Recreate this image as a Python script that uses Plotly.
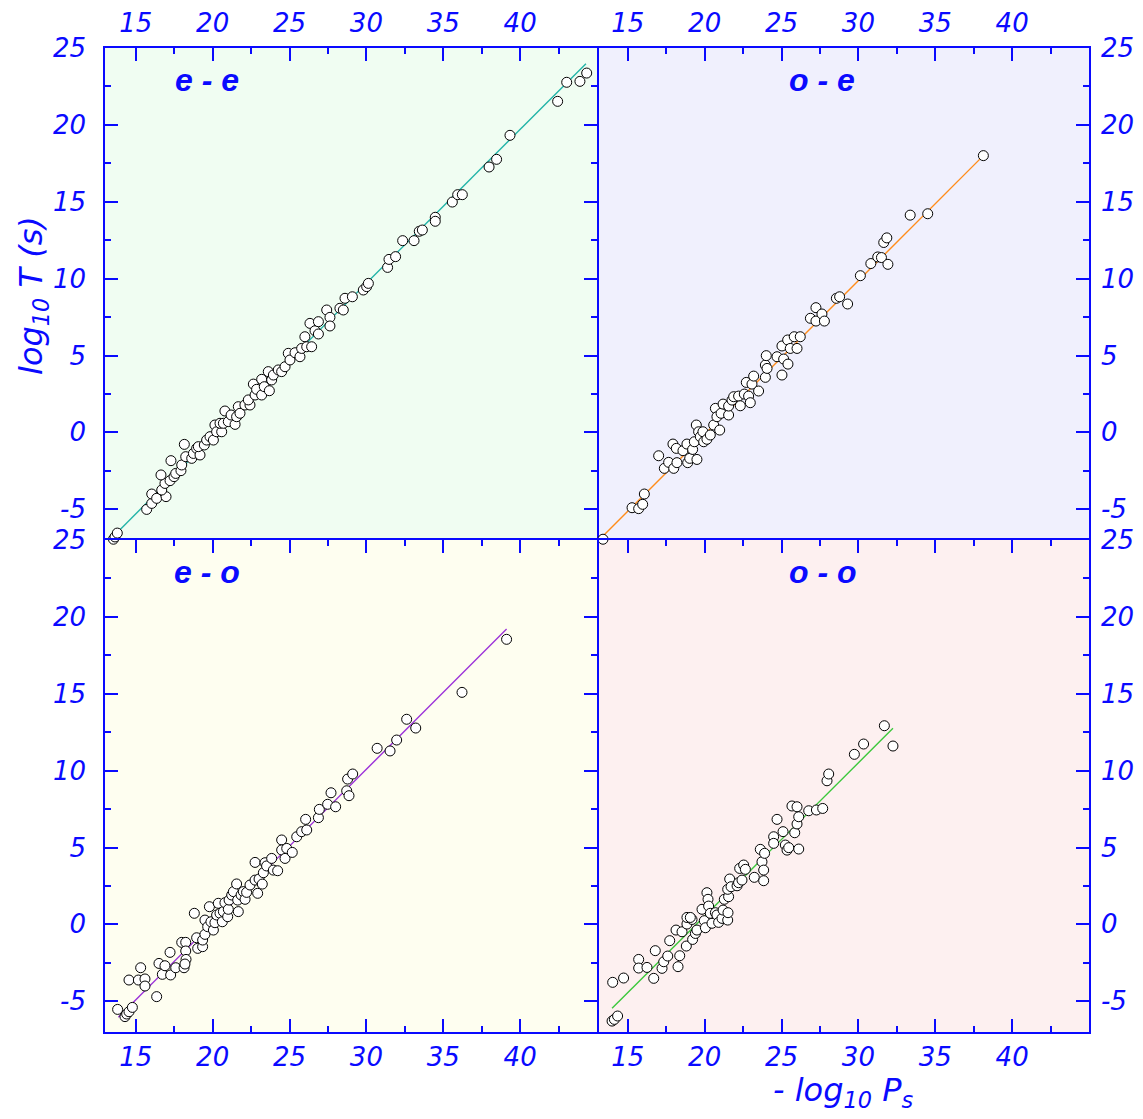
import plotly.graph_objects as go
from plotly.subplots import make_subplots

# ---------------- data ----------------
ee_x = [13.55, 13.65, 13.8, 15.71, 16.04, 16.04, 16.36, 16.97, 16.69, 16.9, 16.64, 17.23, 17.29, 17.49, 17.6,
        17.94, 17.99, 18.16, 18.25, 18.64, 18.75, 18.96, 19.18, 19.07, 19.46, 19.61, 19.83, 20.05, 20.15, 20.26,
        20.59, 20.48, 20.7, 20.8, 21.02, 21.2, 21.46, 21.56, 21.67, 21.78, 22.1, 22.43, 22.32, 22.65, 22.76,
        22.86, 23.19, 23.19, 23.36, 23.62, 23.69, 23.84, 23.95, 24.27, 24.49, 24.71, 24.92, 25.03, 25.36, 25.68,
        25.79, 26.0, 26.12, 26.44, 26.33, 26.66, 26.88, 26.88, 27.42, 27.63, 27.63, 28.28, 28.5, 28.61, 29.09,
        29.8, 30.02, 30.13, 31.38, 31.47, 31.9, 32.36, 33.1, 33.44, 33.64, 34.48, 34.48, 35.59, 35.94, 36.24,
        37.98, 38.47, 39.34, 42.44, 43.03, 43.89, 44.33]
ee_y = [-6.95, -6.8, -6.55, -5.01, -4.62, -4.01, -4.29, -4.18, -3.75, -3.32, -2.77, -3.14, -1.84, -2.88, -2.67,
        -2.49, -2.12, -0.78, -1.58, -1.69, -1.37, -1.04, -1.47, -0.93, -0.82, -0.5, -0.28, -0.5, 0.48, 0.04,
        0.04, 0.59, 0.59, 1.39, 0.7, 1.13, 0.52, 1.02, 1.67, 1.24, 1.78, 1.78, 2.11, 3.14, 2.43,
        2.8, 2.43, 3.45, 2.97, 3.95, 2.71, 3.41, 3.73, 4.06, 3.95, 4.27, 5.14, 4.71, 5.18, 4.92,
        5.46, 6.22, 5.57, 5.57, 7.09, 6.61, 7.2, 6.4, 7.96, 7.48, 6.92, 8.07, 7.96, 8.72, 8.82,
        9.26, 9.48, 9.69, 10.73, 11.25, 11.43, 12.47, 12.47, 13.08, 13.16, 13.99, 13.73, 14.98, 15.46, 15.46,
        17.26, 17.76, 19.32, 21.53, 22.77, 22.83, 23.37]

oe_x = [13.39, 15.28, 15.71, 15.97, 16.08, 17.01, 17.38, 17.66, 17.99, 17.94, 18.16, 18.2, 18.59, 18.85, 18.9,
        19.03, 19.22, 19.5, 19.33, 19.46, 19.61, 19.72, 19.89, 19.94, 20.15, 20.37, 20.59, 20.7, 20.8, 20.98,
        21.07, 21.2, 21.56, 21.56, 21.78, 21.89, 22.21, 22.32, 22.58, 22.71, 22.86, 22.97, 23.08, 23.19, 23.51,
        23.95, 23.95, 24.06, 24.01, 24.71, 25.03, 25.03, 25.14, 25.4, 25.42, 25.57, 25.83, 26.01, 26.22, 26.88,
        27.24, 27.24, 27.63, 27.79, 28.57, 28.78, 29.3, 30.13, 30.81, 31.26, 31.5, 31.92, 31.65, 31.85, 33.37,
        34.51, 38.13]
oe_y = [-6.95, -4.9, -4.96, -4.68, -4.01, -1.52, -2.34, -1.95, -2.34, -0.76, -1.04, -1.97, -1.19, -0.76, -1.97,
        -1.69, -1.11, -1.76, -0.61, 0.48, 0.04, -0.28, 0.04, -0.61, -0.45, -0.17, 0.48, 1.56, 1.02, 0.15,
        1.24, 1.84, 1.13, 1.71, 2.1, 2.32, 2.36, 1.73, 2.49, 3.25, 2.36, 1.93, 3.14, 3.66, 2.69,
        3.58, 4.38, 4.16, 4.99, 4.92, 3.73, 5.62, 4.77, 6.01, 4.44, 5.46, 6.22, 5.46, 6.22, 7.42,
        8.11, 7.24, 7.7, 7.24, 8.72, 8.82, 8.35, 10.19, 10.98, 11.41, 11.37, 10.93, 12.35, 12.65, 14.13,
        14.22, 18.0]

eo_x = [13.82, 14.3, 14.41, 14.56, 14.78, 14.56, 15.17, 15.32, 15.6, 15.6, 16.36, 16.51, 16.73, 16.9, 17.23,
        17.27, 17.6, 17.99, 18.14, 18.25, 18.25, 18.27, 18.2, 18.81, 18.96, 19.03, 19.35, 19.35, 19.5, 19.5,
        19.68, 19.79, 19.89, 20.05, 20.15, 20.26, 20.37, 20.48, 20.63, 20.7, 20.8, 20.98, 21.02, 21.07, 21.24,
        21.35, 21.56, 21.63, 21.67, 21.85, 22.0, 22.11, 22.21, 22.43, 22.76, 22.76, 22.93, 23.02, 23.23, 23.3,
        23.41, 23.51, 23.84, 23.95, 24.23, 24.49, 24.49, 24.71, 24.82, 25.18, 25.47, 25.79, 26.05, 26.12, 26.88,
        26.94, 27.48, 27.7, 28.0, 28.72, 28.78, 28.87, 29.11, 30.7, 31.54, 31.97, 32.62, 33.21, 36.22, 39.12]
eo_y = [-5.53, -6.0, -5.83, -5.68, -5.4, -3.62, -3.62, -2.82, -3.55, -4.01, -4.7, -2.54, -3.25, -2.69, -1.82,
        -3.29, -2.82, -1.17, -2.82, -1.17, -1.73, -2.28, -2.58, 0.72, -0.87, -1.56, -1.45, -1.02, -0.65, 0.28,
        -0.15, 1.15, 0.17, -0.37, 0.11, 0.61, 1.37, 0.72, 0.17, 0.83, 1.41, 0.5, 0.98, 1.58, 1.91,
        2.13, 2.63, 1.58, 0.83, 1.91, 2.13, 1.63, 2.08, 2.56, 4.03, 2.88, 2.02, 2.95, 2.62, 3.36,
        4.01, 3.8, 4.29, 3.53, 3.49, 5.49, 4.84, 4.29, 4.94, 4.68, 5.7, 6.03, 6.83, 6.14, 6.94,
        7.48, 7.81, 8.56, 7.65, 8.69, 9.45, 8.37, 9.78, 11.45, 11.28, 11.99, 13.34, 12.77, 15.09, 18.54]

oo_x = [13.98, 14.13, 14.34, 14.02, 14.73, 15.71, 15.71, 16.25, 16.69, 16.79, 17.23, 17.34, 17.6, 17.73, 18.14,
        18.27, 18.38, 18.53, 18.81, 18.85, 18.85, 19.18, 19.07, 19.22, 19.4, 19.5, 19.83, 19.98, 20.05, 20.15,
        20.22, 20.26, 20.37, 20.48, 20.7, 20.8, 20.91, 21.13, 21.2, 21.28, 21.5, 21.52, 21.56, 21.5, 21.63,
        21.72, 22.11, 22.21, 22.43, 22.28, 22.54, 22.65, 23.23, 23.62, 23.73, 23.84, 23.84, 23.9, 24.49, 24.49,
        24.71, 25.1, 25.25, 25.36, 25.47, 25.86, 26.01, 26.12, 26.12, 25.68, 26.01, 26.77, 27.27, 27.68, 27.96,
        28.07, 29.74, 30.34, 31.69, 32.25]
oo_y = [-6.29, -6.18, -5.96, -3.77, -3.49, -2.28, -2.84, -2.8, -3.51, -1.71, -2.86, -2.43, -2.06, -1.06, -0.37,
        -2.75, -2.04, -0.48, -1.41, 0.02, 0.45, 0.32, 0.45, -0.98, -0.59, -0.37, 0.98, 0.24, -0.22, 2.06,
        1.63, 1.19, 0.72, 0.07, 0.76, 0.61, 0.13, 0.39, 0.93, 1.63, 0.28, 0.76, 1.8, 2.28, 2.95,
        2.45, 2.51, 2.71, 2.88, 3.64, 3.86, 3.58, 3.06, 4.88, 4.07, 3.53, 2.84, 4.62, 5.7, 5.27,
        6.83, 6.03, 5.16, 4.83, 4.99, 5.96, 6.53, 7.0, 4.9, 7.7, 7.65, 7.39, 7.44, 7.54, 9.34,
        9.78, 11.06, 11.73, 12.92, 11.6]

# fitted lines (end points)
fit_ee_x = [13.55, 44.28]
fit_ee_y = [-6.75, 23.98]
fit_oe_x = [13.39, 38.13]
fit_oe_y = [-6.74, 18.0]
fit_eo_x = [13.87, 39.12]
fit_eo_y = [-6.04, 19.21]
fit_oo_x = [13.98, 32.25]
fit_oo_y = [-5.46, 12.75]

panel_labels = ["e - e", "o - e", "e - o", "o - o"]
x_tickvals = [15, 20, 25, 30, 35, 40]
x_ticktext = ["15", "20", "25", "30", "35", "40"]
x_minor = [17.5, 22.5, 27.5, 32.5, 37.5, 42.5]
y_tickvals = [-5, 0, 5, 10, 15, 20, 25]
y_ticktext = ["-5", "0", "5", "10", "15", "20", "25"]
y_minor = [-2.5, 2.5, 7.5, 12.5, 17.5, 22.5]

# ---------------- figure ----------------
BLUE = "#0a0aff"
FONT = "DejaVu Sans"

fig = make_subplots(rows=2, cols=2, horizontal_spacing=0, vertical_spacing=0)

panels = [
    (1, 1, ee_x, ee_y, fit_ee_x, fit_ee_y, "#22b4a8", "#f0fdf2"),
    (1, 2, oe_x, oe_y, fit_oe_x, fit_oe_y, "#ff8c1a", "#f0f0fd"),
    (2, 1, eo_x, eo_y, fit_eo_x, fit_eo_y, "#9b30d9", "#fefef0"),
    (2, 2, oo_x, oo_y, fit_oo_x, fit_oo_y, "#3cc83c", "#fdf0f0"),
]

for r, c, xs, ys, fx, fy, lc, bg in panels:
    fig.add_trace(go.Scatter(x=fx, y=fy, mode="lines", line=dict(color=lc, width=1.4),
                             showlegend=False, hoverinfo="skip"), row=r, col=c)
    fig.add_trace(go.Scatter(x=xs, y=ys, mode="markers", cliponaxis=False,
                             marker=dict(size=10, color="white", line=dict(color="black", width=1)),
                             showlegend=False), row=r, col=c)

tickfont = dict(family=FONT, size=26, color=BLUE, style="italic")
common_x = dict(range=[13, 45], tickmode="array", tickvals=x_tickvals, ticktext=x_ticktext,
                ticks="inside", ticklen=13, automargin=False,
                tickwidth=1.5, tickcolor=BLUE, showline=True, linecolor=BLUE, linewidth=1.5,
                showgrid=False, zeroline=False, tickfont=tickfont,
                minor=dict(tickmode="array", tickvals=x_minor, ticks="inside", ticklen=6,
                           tickwidth=1.5, tickcolor=BLUE, showgrid=False))
common_y = dict(range=[-7, 25], tickmode="array", tickvals=y_tickvals, ticktext=y_ticktext,
                ticks="inside", ticklen=13, automargin=False,
                tickwidth=1.5, tickcolor=BLUE, showline=True, linecolor=BLUE, linewidth=1.5,
                showgrid=False, zeroline=False, tickfont=tickfont,
                minor=dict(tickmode="array", tickvals=y_minor, ticks="inside", ticklen=6,
                           tickwidth=1.5, tickcolor=BLUE, showgrid=False))

fig.update_xaxes(**common_x)
fig.update_yaxes(**common_y)

fig.update_xaxes(side="top", mirror=False, ticklabelstandoff=4, row=1, col=1)
fig.update_xaxes(side="top", mirror=False, ticklabelstandoff=4, row=1, col=2)
fig.update_xaxes(side="bottom", mirror="ticks", ticklabelstandoff=1, row=2, col=1)
fig.update_xaxes(side="bottom", mirror="ticks", ticklabelstandoff=1, row=2, col=2)
fig.update_yaxes(side="left", mirror="ticks", ticklabelstandoff=12, row=1, col=1)
fig.update_yaxes(side="left", mirror="ticks", ticklabelstandoff=12, row=2, col=1)
fig.update_yaxes(side="right", mirror=False, ticklabelstandoff=5, row=1, col=2)
fig.update_yaxes(side="right", mirror=False, ticklabelstandoff=5, row=2, col=2)

# page has an 8px body margin -> figure is sized / offset accordingly
OFF = 8
W, H = 1135, 1111
ML, MR, MT, MB = 97, 54, 40, 87
fig.update_layout(width=W, height=H, margin=dict(l=ML, r=MR, t=MT, b=MB, autoexpand=False),
                  paper_bgcolor="white", plot_bgcolor="white")

# panel backgrounds
for r, c, xs, ys, fx, fy, lc, bg in panels:
    idx = (r - 1) * 2 + c
    xr = "x" if idx == 1 else f"x{idx}"
    yr = "y" if idx == 1 else f"y{idx}"
    fig.add_shape(type="rect", xref=f"{xr} domain", yref=f"{yr} domain", x0=0, x1=1, y0=0, y1=1,
                  fillcolor=bg, line=dict(width=0), layer="below")

pw = W - ML - MR
ph = H - MT - MB


def px2paper(px, py):
    # px, py in page pixels of the reference
    return (px - OFF - ML) / pw, 1 - (py - OFF - MT) / ph


label_pos = [(207, 80), (822, 80), (207, 572), (823, 572)]
for text, (lx, ly) in zip(panel_labels, label_pos):
    ax_, ay_ = px2paper(lx, ly)
    fig.add_annotation(x=ax_, y=ay_, xref="paper", yref="paper", text=f"<b><i>{text}</i></b>",
                       showarrow=False, xanchor="center", yanchor="middle",
                       font=dict(family="Liberation Sans", size=32, color=BLUE))

# axis titles
tx, ty = px2paper(33, 296)
fig.add_annotation(x=tx, y=ty, xref="paper", yref="paper", text="<i>log<sub>10</sub> T (s)</i>",
                   showarrow=False, textangle=-90, xanchor="center", yanchor="middle",
                   font=dict(family=FONT, size=32, color=BLUE))
tx, ty = px2paper(843, 1092)
fig.add_annotation(x=tx, y=ty, xref="paper", yref="paper", text="<i>- log<sub>10</sub> P<sub>s</sub></i>",
                   showarrow=False, xanchor="center", yanchor="middle",
                   font=dict(family=FONT, size=32, color=BLUE))

fig.write_html("out.html")
